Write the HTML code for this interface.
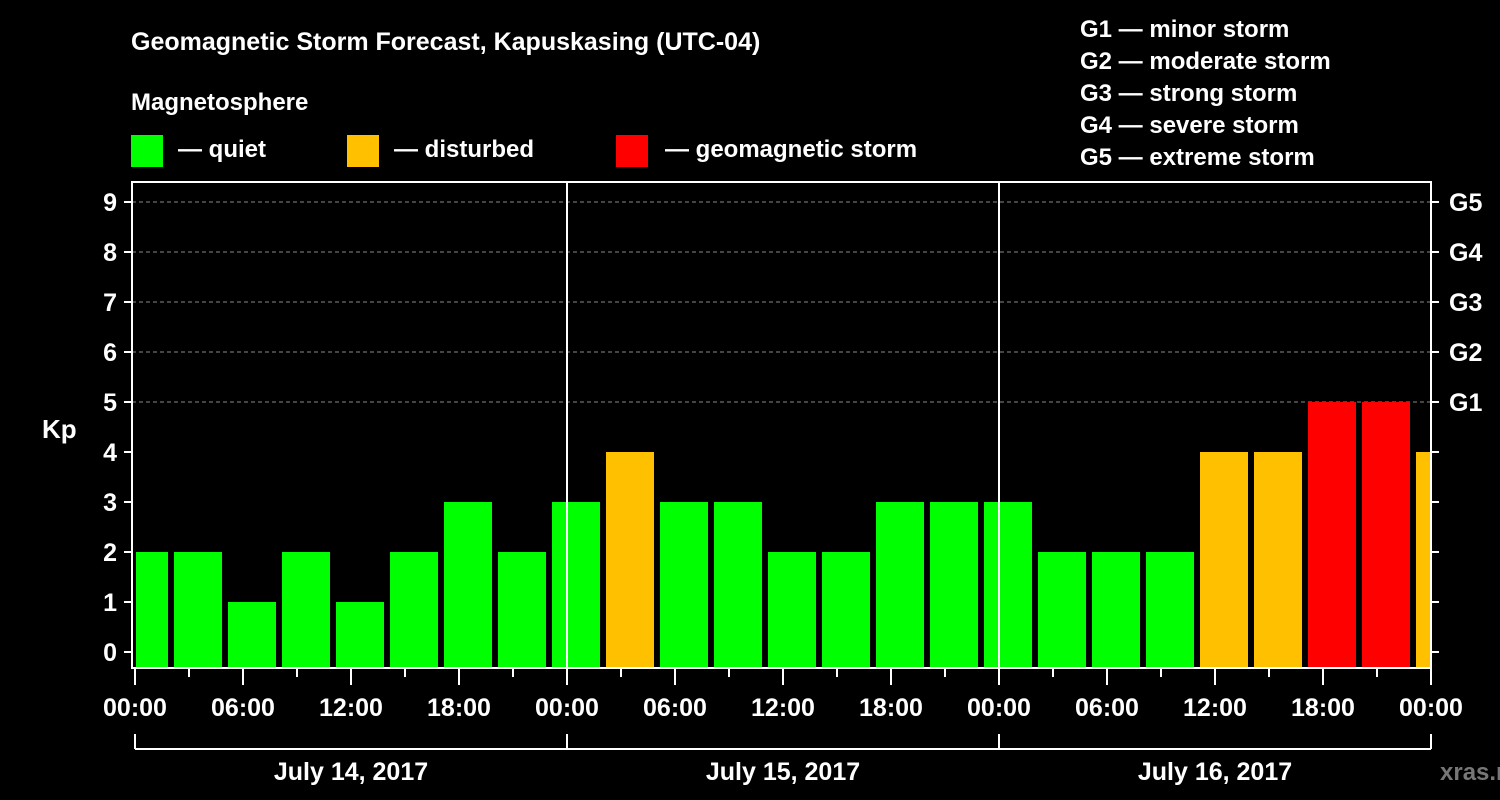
<!DOCTYPE html>
<html><head><meta charset="utf-8"><style>
html,body{margin:0;padding:0;background:#000;}
svg{display:block;font-family:"Liberation Sans",sans-serif;font-weight:bold;}
</style></head><body>
<svg id="chart" width="1500" height="800" viewBox="0 0 1500 800">
<text x="131" y="50" fill="#fff" font-size="25">Geomagnetic Storm Forecast, Kapuskasing (UTC-04)</text>
<text x="131" y="110" fill="#fff" font-size="24">Magnetosphere</text>
<g><rect x="131" y="135" width="32" height="32" fill="#00ff00"/><text x="178" y="157" fill="#fff" font-size="24">— quiet</text></g>
<g><rect x="347" y="135" width="32" height="32" fill="#ffc000"/><text x="394" y="157" fill="#fff" font-size="24">— disturbed</text></g>
<g><rect x="616" y="135" width="32" height="32" fill="#ff0000"/><text x="665" y="157" fill="#fff" font-size="24">— geomagnetic storm</text></g>
<g fill="#fff" font-size="24">
<text x="1080" y="37">G1 — minor storm</text>
<text x="1080" y="69">G2 — moderate storm</text>
<text x="1080" y="101">G3 — strong storm</text>
<text x="1080" y="133">G4 — severe storm</text>
<text x="1080" y="165">G5 — extreme storm</text>
</g>
<g id="grid"></g><g id="bars"></g><g id="axes"></g>
<text x="42" y="438" fill="#fff" font-size="26">Kp</text>
<text x="1440" y="780" fill="#777" font-size="24">xras.ru</text>
</svg>
<script>
const values=[2,2,1,2,1,2,3,2,3,4,3,3,2,2,3,3,3,2,2,2,4,4,5,5,4];
const binStartHours=[-1,2,5,8,11,14,17,20,23,26,29,32,35,38,41,44,47,50,53,56,59,62,65,68,71];
const yTicks=[0,1,2,3,4,5,6,7,8,9];
const gLabels=["G1","G2","G3","G4","G5"];
const gLevels=[5,6,7,8,9];
const timeLabels=["00:00","06:00","12:00","18:00"];
const dayLabels=["July 14, 2017","July 15, 2017","July 16, 2017"];
const NS="http://www.w3.org/2000/svg";
const X0=135,PXH=18,L=132,R=1431,T=182,B=668;
const x=h=>X0+h*PXH;
const y=v=>652-v*50;
function mk(tag,attrs,parent){const e=document.createElementNS(NS,tag);for(const k in attrs)e.setAttribute(k,attrs[k]);document.getElementById(parent).appendChild(e);return e;}
gLevels.forEach((v,i)=>{
 const l=mk('line',{x1:L,x2:R,y1:y(v),y2:y(v),stroke:'#888','stroke-dasharray':'4,3','stroke-width':1},'grid');
 
 
 const t=mk('text',{x:1449,y:y(v)+9,fill:'#fff','font-size':25},'axes');t.textContent=gLabels[i];
 
 
});
const colorOf=v=>v>=5?'#ff0000':(v>=4?'#ffc000':'#00ff00');
values.forEach((v,i)=>{
 let a=Math.max(x(binStartHours[i])+3,X0+1),b=Math.min(x(binStartHours[i]+3)-3,R-1);
 const r=mk('rect',{x:a,y:y(v),width:b-a,height:B-1-y(v),fill:colorOf(v)},'bars');
 
 
});
const frame=mk('rect',{x:L,y:T,width:R-L,height:B-T,fill:'none',stroke:'#fff','stroke-width':2},'axes');


[1,2].forEach(d=>{const l=mk('line',{x1:x(24*d),x2:x(24*d),y1:T,y2:B,stroke:'#fff','stroke-width':2},'axes');
 
 });
yTicks.forEach(v=>{
 mk('line',{x1:124,x2:L,y1:y(v),y2:y(v),stroke:'#fff','stroke-width':2},'axes');
 mk('line',{x1:R,x2:R+8,y1:y(v),y2:y(v),stroke:'#fff','stroke-width':2},'axes');
 const t=mk('text',{x:117,y:y(v)+9,fill:'#fff','font-size':25,'text-anchor':'end'},'axes');t.textContent=v;
 
 
});
for(let h=0;h<=72;h+=3){
 const major=h%6===0;
 mk('line',{x1:x(h),x2:x(h),y1:B,y2:major?685:677,stroke:'#fff','stroke-width':2},'axes');
 if(major){const t=mk('text',{x:x(h),y:716,fill:'#fff','font-size':25,'text-anchor':'middle'},'axes');
  t.textContent=h===72?"00:00":timeLabels[(h%24)/6];
  
  }
}
mk('line',{x1:x(0),x2:x(72),y1:749,y2:749,stroke:'#fff','stroke-width':2},'axes');
for(let d=0;d<=3;d++)mk('line',{x1:x(24*d),x2:x(24*d),y1:734,y2:749,stroke:'#fff','stroke-width':2},'axes');
dayLabels.forEach((s,i)=>{const t=mk('text',{x:x(24*i+12),y:780,fill:'#fff','font-size':25,'text-anchor':'middle'},'axes');t.textContent=s;
 
 });
</script>
</body></html>
